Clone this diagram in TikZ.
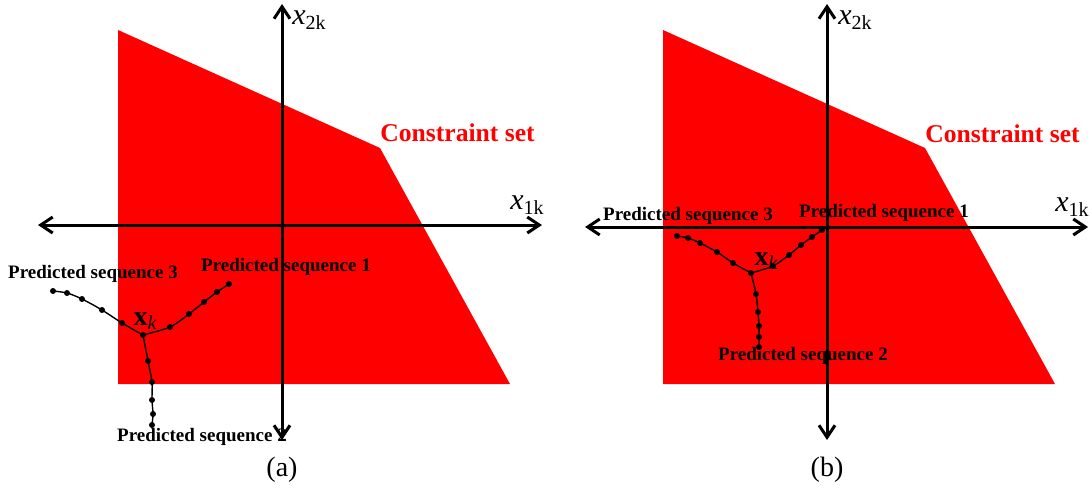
\documentclass[tikz,border=0pt]{standalone}
\usepackage{fontspec}
\setmainfont{Liberation Serif}
\usetikzlibrary{arrows.meta}
\definecolor{cred}{RGB}{255,0,0}
\newcommand{\axlab}[1]{\textit{x}\raisebox{-0.4ex}{\fontsize{10}{12}\selectfont #1}}
\newcommand{\xklab}{\textbf{x}\raisebox{-0.35ex}{\fontsize{10}{12}\selectfont\itshape k}}
\begin{document}
\begin{tikzpicture}[x=0.5pt,y=-0.5pt,
  axis/.style={line width=1.5pt,{Straight Barb[length=6pt,width=8pt]}-{Straight Barb[length=6pt,width=8pt]}},
  region/.style={fill=cred,draw=none},
  seq/.style={line width=0.7pt},
  dot/.style={circle,fill=black,inner sep=0pt,minimum size=3pt},
  lab/.style={font=\fontsize{9.5}{11}\selectfont\bfseries,inner sep=0pt},
  cons/.style={font=\fontsize{12.8}{14}\selectfont\bfseries,text=cred,inner sep=0pt},
  axl/.style={font=\fontsize{15}{17}\selectfont,inner sep=0pt,text height=7pt,text depth=3pt},
  xkl/.style={font=\fontsize{14}{16}\selectfont,inner sep=0pt},
  captext/.style={font=\fontsize{14}{16}\selectfont,inner sep=0pt}]
\useasboundingbox (0,0) rectangle (1092,493);
% ---------- panel (a)
\fill[region] (118,30) -- (380,148) -- (510,384) -- (118,384) -- cycle;
\coordinate (ax1) at (38,225); \coordinate (ax2) at (542,225);
\coordinate (ay1) at (282,440); \coordinate (ay2) at (282,4);
\draw[axis] (ax1) -- (ax2);
\draw[axis] (ay1) -- (ay2);
\node[axl,anchor=base west] (x2a) at (292,24) {\axlab{2k}};
\node[axl,anchor=base east] (x1a) at (544,209) {\axlab{1k}};
\node[cons,anchor=west] (csa) at (380,133) {Constraint set};
\coordinate (xka) at (143,335);
\draw[seq] plot[smooth] coordinates {(143,335) (170,327) (189,314) (204,302) (217,292) (229,284)};
\draw[seq] plot[smooth] coordinates {(143,335) (122,323) (102,310) (82,299) (67,293) (53,291)};
\draw[seq] plot[smooth] coordinates {(143,335) (148,361) (152,382) (152,400) (153,414) (152,425)};
\foreach \p in {(143,335),(170,327),(189,314),(204,302),(217,292),(229,284),(122,323),(102,310),(82,299),(67,293),(53,291),(148,361),(152,382),(152,400),(153,414),(152,425)}
  \node[dot] at \p {};
\node[xkl] (xkla) at (145,321) {\xklab};
\node[lab] (s3a) at (93,274) {Predicted sequence 3};
\node[lab] (s1a) at (286,267) {Predicted sequence 1};
\node[lab] (s2a) at (202,437) {Predicted sequence 2};
\node[captext] (capa) at (282,470) {(a)};
% ---------- panel (b)
\fill[region] (663,30) -- (925,148) -- (1055,384) -- (663,384) -- cycle;
\coordinate (bx1) at (585,227); \coordinate (bx2) at (1088,227);
\coordinate (by1) at (827,440); \coordinate (by2) at (827,4);
\draw[axis] (bx1) -- (bx2);
\draw[axis] (by1) -- (by2);
\node[axl,anchor=base west] (x2b) at (838,24) {\axlab{2k}};
\node[axl,anchor=base east] (x1b) at (1089,211) {\axlab{1k}};
\node[cons,anchor=west] (csb) at (925,134) {Constraint set};
\coordinate (xkb) at (751,273);
\draw[seq] plot[smooth] coordinates {(751,273) (773,266) (789,255) (801,245) (812,237) (822,230)};
\draw[seq] plot[smooth] coordinates {(751,273) (733,263) (717,252) (700,243) (688,238) (677,236)};
\draw[seq] plot[smooth] coordinates {(751,273) (756,294) (758,312) (759,326) (759,337) (759,347)};
\foreach \p in {(751,273),(773,266),(789,255),(801,245),(812,237),(822,230),(733,263),(717,252),(700,243),(688,238),(677,236),(756,294),(758,312),(759,326),(759,337),(759,347)}
  \node[dot] at \p {};
\node[xkl] (xklb) at (766,261) {\xklab};
\node[lab] (s3b) at (688,216) {Predicted sequence 3};
\node[lab] (s1b) at (884,213) {Predicted sequence 1};
\node[lab] (s2b) at (803,356) {Predicted sequence 2};
\node[captext] (capb) at (827,470) {(b)};
\end{tikzpicture}
\end{document}
